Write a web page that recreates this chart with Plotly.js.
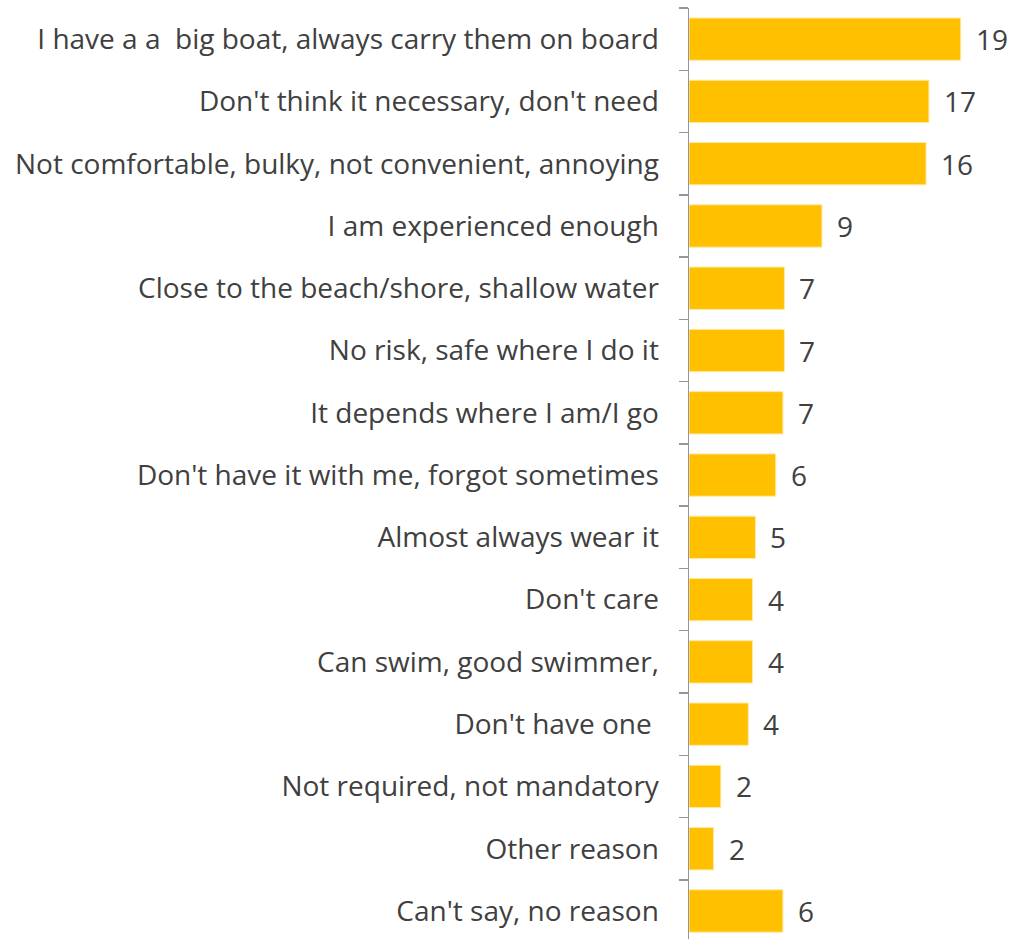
<!DOCTYPE html>
<html>
<head>
<meta charset="utf-8">
<script src="https://cdn.plot.ly/plotly-3.0.1.min.js"></script>
<style>html,body{margin:0;padding:0;background:#fff;}</style>
</head>
<body>
<div id="chart" style="width:1011px;height:939px;"></div>
<script>
const categories = [
  "I have a a\u00A0\u00A0big boat, always carry them on board",
  "Don't think it necessary, don't need",
  "Not comfortable, bulky, not convenient, annoying",
  "I am experienced enough",
  "Close to the beach/shore, shallow water",
  "No risk, safe where I do it",
  "It depends where I am/I go",
  "Don't have it with me, forgot sometimes",
  "Almost always wear it",
  "Don't care",
  "Can swim, good swimmer,",
  "Don't have one\u00A0",
  "Not required, not mandatory",
  "Other reason",
  "Can't say, no reason"
];
const values = [18.8, 16.6, 16.4, 9.2, 6.6, 6.6, 6.5, 6.0, 4.6, 4.4, 4.4, 4.1, 2.2, 1.7, 6.5];
const valueLabels = ["19", "17", "16", "9", "7", "7", "7", "6", "5", "4", "4", "4", "2", "2", "6"];

const FONT = "'Open Sans', sans-serif";
const TEXT_COLOR = "#404040";

const trace = {
  type: "bar",
  orientation: "h",
  x: values,
  y: categories,
  marker: { color: "#FFC000", line: { color: "#FFE9A6", width: 1 } },
  hoverinfo: "none"
};

const annotations = values.map((v, i) => ({
  x: v,
  y: categories[i],
  xref: "x",
  yref: "y",
  text: valueLabels[i],
  showarrow: false,
  xanchor: "left",
  yanchor: "middle",
  xshift: 13,
  font: { family: FONT, size: 28, color: TEXT_COLOR }
}));

const layout = {
  width: 1011,
  height: 939,
  margin: { l: 689, r: 4, t: 8, b: 0, pad: 0 },
  paper_bgcolor: "#ffffff",
  plot_bgcolor: "#ffffff",
  showlegend: false,
  bargap: 0.32,
  font: { family: FONT, size: 28, color: TEXT_COLOR },
  xaxis: {
    range: [0, 22],
    showgrid: false,
    zeroline: false,
    showline: false,
    showticklabels: false,
    ticks: ""
  },
  yaxis: {
    type: "category",
    categoryorder: "array",
    categoryarray: categories,
    range: [14.45, -0.5],
    autorange: false,
    showgrid: false,
    zeroline: false,
    showline: true,
    linecolor: "#969696",
    linewidth: 1.5,
    ticks: "outside",
    tickson: "boundaries",
    ticklen: 9,
    tickwidth: 1.5,
    tickcolor: "#969696",
    ticklabelstandoff: 23,
    tickfont: { family: FONT, size: 28, color: TEXT_COLOR }
  },
  annotations: annotations
};

Plotly.newPlot("chart", [trace], layout, { displayModeBar: false, staticPlot: true });
</script>
</body>
</html>
